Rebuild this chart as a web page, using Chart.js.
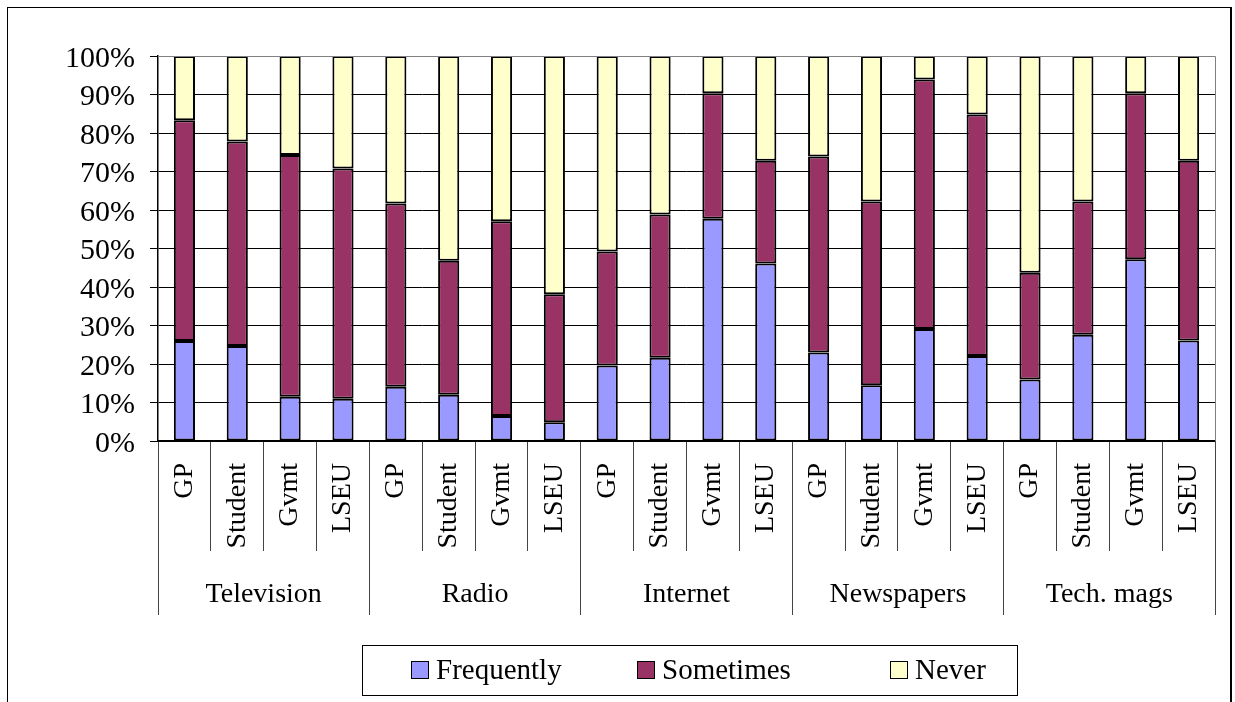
<!DOCTYPE html>
<html>
<head>
<meta charset="utf-8">
<title>Media use by respondent group</title>
<script src="https://cdn.jsdelivr.net/npm/chart.js@4.4.1/dist/chart.umd.min.js"></script>
<style>
  html, body { margin: 0; padding: 0; background: #fff; }
  #wrap { width: 1235px; height: 702px; }
</style>
</head>
<body>
<div id="wrap"><canvas id="chart" width="1235" height="702"></canvas></div>
<script>
// media groups and the respondent types inside each group
var groups = ["Television", "Radio", "Internet", "Newspapers", "Tech. mags"];
var respondents = ["GP", "Student", "Gvmt", "LSEU"];

// percentages (one per bar, in group order)
var frequently = [26.0, 24.7, 11.5, 11.0, 14.1, 12.0, 6.5, 4.9, 19.6, 21.6, 57.7, 46.1, 23.0, 14.5, 29.1, 22.1, 16.0, 27.6, 47.2, 26.1];
var sometimes  = [57.3, 53.1, 62.8, 59.8, 47.6, 34.8, 50.6, 33.2, 29.6, 37.2, 32.6, 26.7, 50.9, 47.7, 64.8, 62.7, 27.7, 34.6, 43.1, 46.7];
var never      = [16.7, 22.2, 25.7, 29.2, 38.3, 53.2, 42.9, 61.9, 50.8, 41.2, 9.7, 27.2, 26.1, 37.8, 6.1, 15.2, 56.3, 37.8, 9.7, 27.2];

var seriesNames = ["Frequently", "Sometimes", "Never"];
var seriesColors = ["#9999FF", "#993366", "#FFFFCC"];

var labels = [];
groups.forEach(function () {
    respondents.forEach(function (r) { labels.push(r); });
});

var FONT = "'Liberation Serif', 'Times New Roman', serif";
Chart.defaults.font.family = FONT;
Chart.defaults.color = "#000";

function makeDataset(i, values) {
    return {
        label: seriesNames[i],
        data: values,
        backgroundColor: seriesColors[i],
        borderColor: "#000",
        borderWidth: 2,
        borderSkipped: false,
        categoryPercentage: 1.0,
        barPercentage: 0.4
    };
}

// outer frame, plot area border and the boxed legend
var decorations = {
    id: "decorations",
    beforeDraw: function (chart) {
        var ctx = chart.ctx;
        ctx.save();
        ctx.fillStyle = "#fff";
        ctx.fillRect(0, 0, chart.width, chart.height);
        ctx.restore();
    },
    afterDraw: function (chart) {
        var ctx = chart.ctx;
        var a = chart.chartArea;
        ctx.save();
        // outer chart frame
        ctx.strokeStyle = "#000";
        ctx.lineWidth = 1;
        ctx.strokeRect(7.5, 7.5, 1224, 760);
        ctx.lineWidth = 2;
        ctx.beginPath();
        ctx.moveTo(1231, 8);
        ctx.lineTo(1231, chart.height);
        ctx.stroke();

        // plot area border (grey, top and right)
        ctx.strokeStyle = "#808080";
        ctx.lineWidth = 1;
        ctx.beginPath();
        ctx.moveTo(Math.round(a.left), Math.round(a.top) + 0.5);
        ctx.lineTo(Math.round(a.right) + 0.5, Math.round(a.top) + 0.5);
        ctx.lineTo(Math.round(a.right) + 0.5, Math.round(a.bottom));
        ctx.stroke();

        // legend
        var itemX = [411, 637, 890];
        ctx.strokeStyle = "#000";
        ctx.lineWidth = 1;
        ctx.strokeRect(362.5, 645.5, 655, 50);
        ctx.font = "29px " + FONT;
        ctx.textBaseline = "middle";
        ctx.textAlign = "left";
        chart.data.datasets.forEach(function (ds, i) {
            ctx.fillStyle = ds.backgroundColor;
            ctx.fillRect(itemX[i], 661, 17, 17);
            ctx.strokeRect(itemX[i] + 0.5, 661.5, 17, 17);
            ctx.fillStyle = "#000";
            ctx.fillText(ds.label, itemX[i] + 25, 671);
        });
        ctx.restore();
    }
};

var ctx = document.getElementById("chart").getContext("2d");
new Chart(ctx, {
    type: "bar",
    data: {
        labels: labels,
        datasets: [
            makeDataset(0, frequently),
            makeDataset(1, sometimes),
            makeDataset(2, never)
        ]
    },
    options: {
        responsive: false,
        animation: false,
        events: [],
        layout: { padding: { top: 56, left: 0, right: 20, bottom: 87 } },
        plugins: {
            legend: { display: false },
            tooltip: { enabled: false }
        },
        scales: {
            x: {
                stacked: true,
                weight: 1,
                grid: { drawOnChartArea: false, offset: true, tickLength: 110, color: "#444", lineWidth: 1 },
                border: { display: true, color: "#000", width: 1.5 },
                ticks: { autoSkip: false, minRotation: 90, maxRotation: 90, padding: -88, font: { size: 28 } },
                afterFit: function (s) { s.height = 110; }
            },
            x2: {
                type: "category",
                labels: groups,
                position: "bottom",
                offset: true,
                weight: 2,
                grid: { drawOnChartArea: false, offset: true, tickLength: 64, color: "#444", lineWidth: 1 },
                border: { display: false },
                ticks: { autoSkip: false, minRotation: 0, maxRotation: 0, padding: -37, font: { size: 28 } },
                afterFit: function (s) { s.height = 64; }
            },
            y: {
                stacked: true,
                min: 0,
                max: 100,
                grid: {
                    color: function (c) { return c.tick && c.tick.value === 100 ? "#808080" : "#000"; },
                    tickColor: "#000",
                    tickLength: 8,
                    lineWidth: 1
                },
                border: { display: true, color: "#000", width: 1.5 },
                ticks: {
                    stepSize: 10,
                    autoSkip: false,
                    padding: 15,
                    labelOffset: 3,
                    font: { size: 30 },
                    callback: function (v) { return v + "%"; }
                },
                afterFit: function (s) { s.width = 158; }
            }
        }
    },
    plugins: [decorations]
});
</script>
</body>
</html>
